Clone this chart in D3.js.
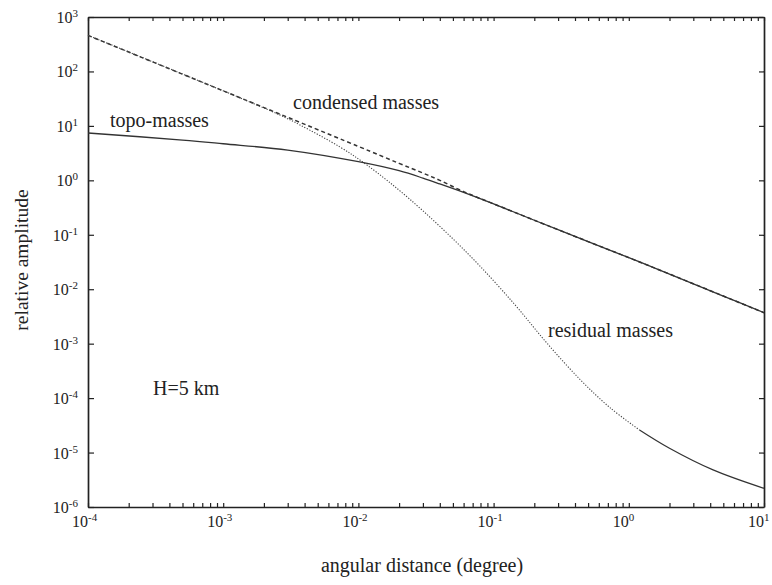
<!DOCTYPE html>
<html>
<head>
<meta charset="utf-8">
<script src="https://cdn.jsdelivr.net/npm/d3@7"></script>
<style>
  body { margin: 0; background: #fff; }
  svg { display: block; }
  text { font-family: "Liberation Serif", "Times New Roman", serif; fill: #222; }
</style>
</head>
<body>
<svg id="drawing_region"></svg>
<script>
// angular distance (degree) and relative amplitude
const topoX = [1e-4, 5e-4, 1e-3, 3e-3, 1e-2, 2e-2, 3e-2, 4e-2, 6e-2, 0.1, 0.2, 0.5, 1, 2, 5, 10];
const topoY = [7.4, 5.5, 4.7, 3.6, 2.2, 1.5, 1.1, 0.86, 0.6, 0.37, 0.185, 0.075, 0.038, 0.019, 0.0075, 0.0037];

const condensedX = [1e-4, 1e-3, 1e-2, 2e-2, 3e-2, 4e-2, 6e-2, 0.1, 0.2, 0.5, 1, 2, 5, 10];
const condensedY = [460, 44, 4.2, 2.05, 1.36, 1.0, 0.62, 0.37, 0.185, 0.075, 0.038, 0.019, 0.0075, 0.0037];

const residualX = [1e-4, 1e-3, 2.6e-3, 3.7e-3, 7.3e-3, 1.16e-2, 2.4e-2, 6.4e-2, 0.14, 0.25, 0.44, 0.73, 1.2, 2, 4.2, 10];
const residualY = [460, 44, 16, 10.4, 4.1, 1.9, 0.45, 0.046, 0.0056, 1.0e-3, 2.15e-4, 6.6e-5, 2.6e-5, 1.2e-5, 4.8e-6, 2.2e-6];

// tick labels are 10^n
const xExponents = [-4, -3, -2, -1, 0, 1];
const yExponents = [-6, -5, -4, -3, -2, -1, 0, 1, 2, 3];

const width = 772, height = 585;
const box = { left: 88, right: 764, top: 17, bottom: 507 };

const svg = d3.select('#drawing_region')
    .attr('width', width)
    .attr('height', height);

const xscale = d3.scaleLog().domain([1e-4, 10]).range([box.left, box.right]);
const yscale = d3.scaleLog().domain([1e-6, 1e3]).range([box.bottom, box.top]);

// minor ticks 1..9 in every decade on the x axis
const xTickValues = [];
xExponents.slice(0, -1).forEach(e => {
    for (let k = 1; k <= 9; k++) xTickValues.push(k * Math.pow(10, e));
});
xTickValues.push(10);
const yTickValues = yExponents.map(e => Math.pow(10, e));

function styleAxis(g) {
    g.select('.domain').attr('stroke', '#222').attr('stroke-width', 1.7);
    g.selectAll('.tick line').attr('stroke', '#222').attr('stroke-width', 1.2);
}

svg.append('g')
    .attr('transform', `translate(0, ${box.bottom})`)
    .call(d3.axisBottom(xscale).tickValues(xTickValues).tickSize(-4).tickSizeOuter(0).tickFormat(''))
    .call(styleAxis);

svg.append('g')
    .attr('transform', `translate(0, ${box.top})`)
    .call(d3.axisTop(xscale).tickValues(xTickValues).tickSize(-4).tickSizeOuter(0).tickFormat(''))
    .call(styleAxis);

svg.append('g')
    .attr('transform', `translate(${box.left}, 0)`)
    .call(d3.axisLeft(yscale).tickValues(yTickValues).tickSize(-6).tickSizeOuter(0).tickFormat(''))
    .call(styleAxis);

svg.append('g')
    .attr('transform', `translate(${box.right}, 0)`)
    .call(d3.axisRight(yscale).tickValues(yTickValues).tickSize(-5).tickSizeOuter(0).tickFormat(''))
    .call(styleAxis);

// tick labels with superscript exponents
function powerLabel(sel) {
    sel.append('tspan').text('10');
    sel.append('tspan')
        .attr('dy', -6)
        .attr('font-size', '11px')
        .text(d => d);
}

// the "10" ends at the tick, the exponent hangs to its right
svg.append('g').selectAll('text')
    .data(xExponents)
    .join('text')
    .attr('x', d => xscale(Math.pow(10, d)) - 16)
    .attr('y', box.bottom + 20)
    .attr('font-size', '16px')
    .call(powerLabel);

svg.append('g').selectAll('text')
    .data(yExponents)
    .join('text')
    .attr('x', box.left - 10)
    .attr('y', d => yscale(Math.pow(10, d)) + 6)
    .attr('text-anchor', 'end')
    .attr('font-size', '16px')
    .call(powerLabel);

// curves
const line = d3.line()
    .x(d => xscale(d[0]))
    .y(d => yscale(d[1]))
    .curve(d3.curveCatmullRom.alpha(0.5));

const condensed = d3.zip(condensedX, condensedY);
const topo = d3.zip(topoX, topoY);
const residual = d3.zip(residualX, residualY);

svg.append('path')
    .datum(condensed)
    .attr('d', line)
    .attr('fill', 'none')
    .attr('stroke', '#333')
    .attr('stroke-width', 1.5)
    .attr('stroke-dasharray', '4,3');

// residual: dotted while steep, solid in the far tail
svg.append('path')
    .datum(residual.filter(d => d[0] <= 1.2))
    .attr('d', line)
    .attr('fill', 'none')
    .attr('stroke', '#444')
    .attr('stroke-width', 1.1)
    .attr('stroke-dasharray', '1.2,1.6');

svg.append('path')
    .datum(residual.filter(d => d[0] >= 1.2))
    .attr('d', line)
    .attr('fill', 'none')
    .attr('stroke', '#333')
    .attr('stroke-width', 1.2);

svg.append('path')
    .datum(topo)
    .attr('d', line)
    .attr('fill', 'none')
    .attr('stroke', '#333')
    .attr('stroke-width', 1.3);

// curve labels
const notes = [
    { text: 'topo-masses', x: 110, y: 127 },
    { text: 'condensed masses', x: 293, y: 109 },
    { text: 'residual masses', x: 548, y: 337 },
    { text: 'H=5 km', x: 153, y: 395 }
];
svg.append('g').selectAll('text')
    .data(notes)
    .join('text')
    .attr('x', d => d.x)
    .attr('y', d => d.y)
    .attr('font-size', '20px')
    .text(d => d.text);

// axis titles
svg.append('text')
    .attr('x', 422)
    .attr('y', 572)
    .attr('text-anchor', 'middle')
    .attr('font-size', '20px')
    .text('angular distance (degree)');

svg.append('text')
    .attr('transform', `translate(28, 260) rotate(-90)`)
    .attr('text-anchor', 'middle')
    .attr('font-size', '19.5px')
    .text('relative amplitude');
</script>
</body>
</html>
